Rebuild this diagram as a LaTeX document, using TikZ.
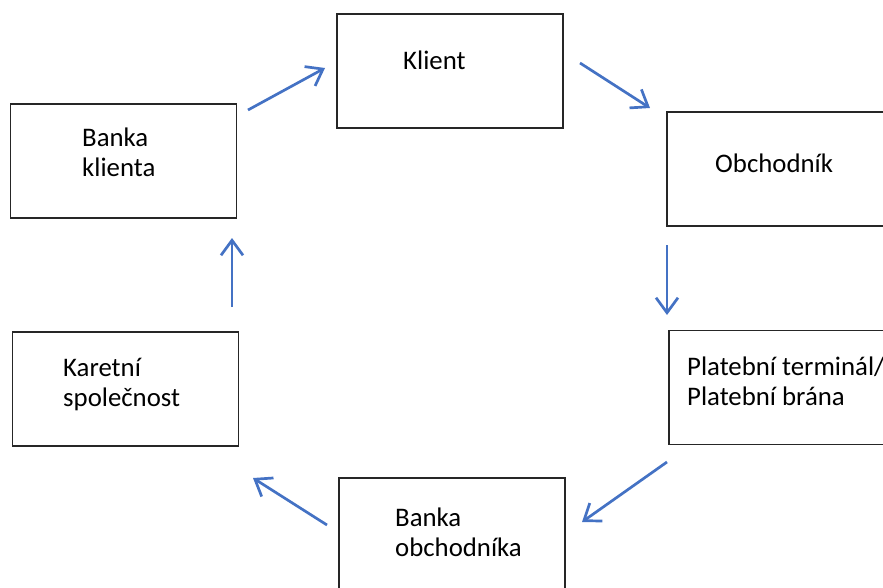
\documentclass[tikz,border=0pt]{standalone}
\usepackage{fontspec}
\setmainfont{Carlito}
\usetikzlibrary{arrows.meta}
\definecolor{arrowblue}{HTML}{4472C4}

\begin{document}
\begin{tikzpicture}[x=1pt,y=-1pt,
      box/.style={draw=black!85,line width=1.6pt,minimum width=226pt,minimum height=114pt,inner sep=0pt},
      txt/.style={anchor=base west,align=left,inner sep=0pt,font=\fontsize{26.8}{30}\selectfont},
      vect/.style={-{Straight Barb[length=15pt,width=22pt]},line width=2.7pt,arrowblue}]
    \useasboundingbox (0,0) rectangle (883,588);
    \node[box] (klient) at (450,71) {};
    \node[box] (obchodnik) at (780,169) {};
    \node[box] (terminal) at (782,387.5) {};
    \node[box] (bankaobch) at (452,535) {};
    \node[box] (karetni) at (125.5,389) {};
    \node[box] (bankakl) at (123.5,161) {};
    \node[txt] (tklient) at (403,70) {Klient};
    \node[txt] (tobchodnik) at (715,173) {Obchodník};
    \node[txt] (tterminal) at (687,405) {Platební terminál/\\Platební brána};
    \node[txt] (tbankaobch) at (395,556) {Banka\\obchodníka};
    \node[txt] (tkaretni) at (63,406) {Karetní\\společnost};
    \node[txt] (tbankakl) at (82,177) {Banka\\klienta};
    \coordinate (a1) at (248,110); \coordinate (b1) at (325,68);
    \coordinate (a2) at (580,63);  \coordinate (b2) at (650,108);
    \coordinate (a3) at (667,245); \coordinate (b3) at (667,315);
    \coordinate (a4) at (667,462); \coordinate (b4) at (582,522);
    \coordinate (a5) at (327,525); \coordinate (b5) at (253,478);
    \coordinate (a6) at (232,307); \coordinate (b6) at (232,238);
    \foreach \s/\e in {a1/b1,a2/b2,a3/b3,a4/b4,a5/b5,a6/b6}
      \draw[vect] (\s) -- (\e);
  \end{tikzpicture}
\end{document}
